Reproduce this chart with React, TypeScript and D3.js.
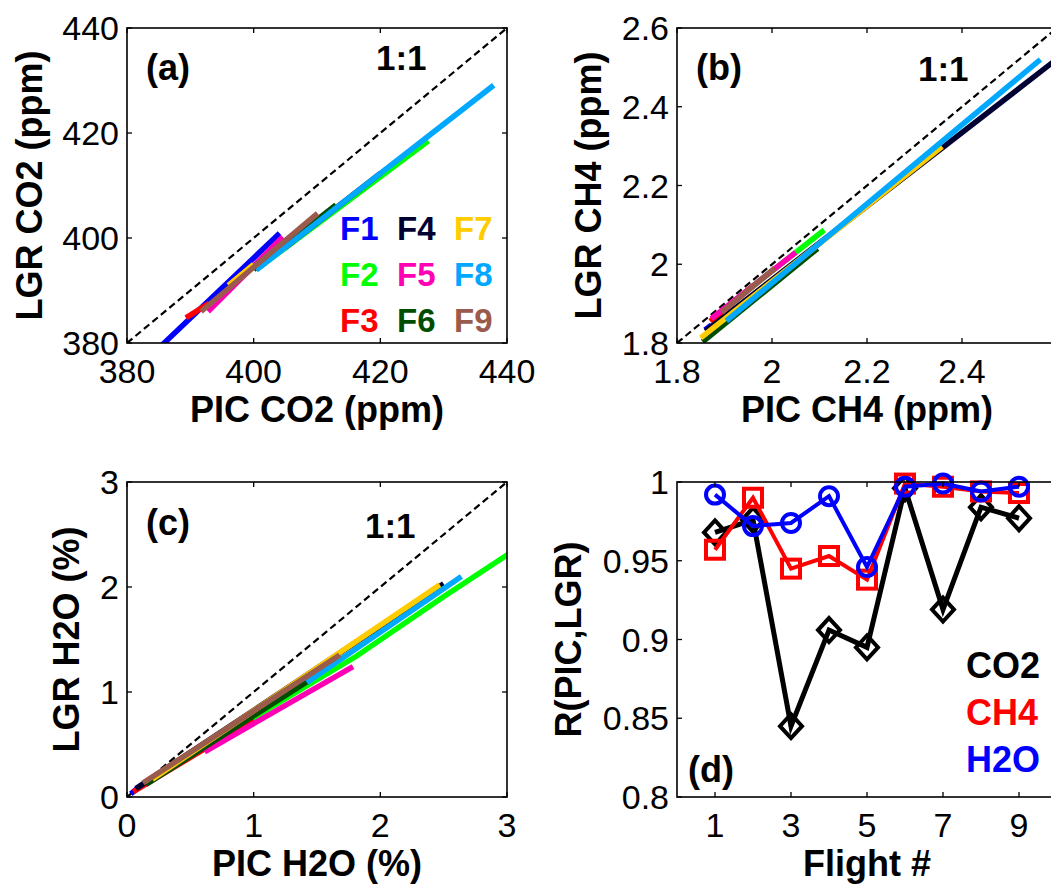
import * as d3 from "d3";

const flightNames = ["F1", "F2", "F3", "F4", "F5", "F6", "F7", "F8", "F9"];
const flightColors = [
  "#0000ff",
  "#00ff00",
  "#ff0000",
  "#000033",
  "#ff00b4",
  "#004d00",
  "#ffcc00",
  "#00a8ff",
  "#9a5a4c"
];

// [PIC, LGR] points, one track per flight (F1..F9)
const co2Tracks: [number, number][][] = [
  [[385.0, 379.0], [404.1, 400.9]],
  [[401.0, 394.5], [427.6, 418.5]],
  [[389.3, 384.8], [393.0, 387.6]],
  [[405.0, 398.2], [420.0, 412.3]],
  [[392.8, 386.0], [404.6, 400.2]],
  [[400.0, 394.0], [413.0, 406.3]],
  [[396.0, 391.0], [400.0, 395.0]],
  [[400.4, 393.9], [437.9, 429.1]],
  [[391.7, 386.0], [410.1, 404.7]]
];
const ch4Tracks: [number, number][][] = [
  [[1.859, 1.833], [1.873, 1.846]],
  [[1.95, 1.935], [2.11, 2.087]],
  [[1.87, 1.855], [1.96, 1.945]],
  [[1.86, 1.83], [2.62, 2.54]],
  [[1.872, 1.862], [2.05, 2.03]],
  [[1.854, 1.803], [2.096, 2.04]],
  [[1.85, 1.813], [2.358, 2.299]],
  [[1.904, 1.856], [2.565, 2.52]],
  [[1.894, 1.878], [2.006, 1.99]]
];
const h2oTracks: [number, number][][] = [
  [[0.03, 0.03], [0.08, 0.08]],
  [[0.5, 0.4], [1.02, 0.77], [1.81, 1.34], [2.49, 1.9], [3.02, 2.32]],
  [[0.05, 0.05], [1.0, 0.74]],
  [[0.07, 0.08], [2.5, 2.03]],
  [[0.613, 0.431], [1.784, 1.241]],
  [[0.15, 0.12], [1.45, 1.12]],
  [[0.2, 0.17], [2.47, 2.02]],
  [[1.42, 1.09], [2.64, 2.1]],
  [[0.126, 0.133], [1.679, 1.352]]
];

const co2Ticks = [380, 400, 420, 440];
const ch4Ticks = [1.8, 2, 2.2, 2.4, 2.6];
const ch4XTicks = [1.8, 2, 2.2, 2.4];
const h2oTicks = [0, 1, 2, 3];

const flightNumbers = [1, 2, 3, 4, 5, 6, 7, 8, 9];
const rCO2 = [0.968, 0.976, 0.845, 0.906, 0.895, 0.996, 0.919, 0.984, 0.977];
const rCH4 = [0.957, 0.99, 0.945, 0.953, 0.938, 0.999, 0.997, 0.994, 0.993];
const rH2O = [0.992, 0.972, 0.974, 0.991, 0.946, 0.997, 0.999, 0.994, 0.997];
const flightTicks = [1, 3, 5, 7, 9];
const rTicks = [0.8, 0.85, 0.9, 0.95, 1];

const font = "'Liberation Sans', Arial, Helvetica, sans-serif";
const plotW = 380;
const plotH = 315;
const tickLen = 5;

function Frame({
  x,
  y,
  xTicks,
  yTicks,
  left,
  top
}: {
  x: d3.ScaleLinear<number, number>;
  y: d3.ScaleLinear<number, number>;
  xTicks: number[];
  yTicks: number[];
  left: number;
  top: number;
}) {
  const bottom = top + plotH;
  const right = left + plotW;
  return (
    <g>
      <rect x={left} y={top} width={plotW} height={plotH} fill="none" stroke="#000" strokeWidth={1.6} />
      {xTicks.map((t) => (
        <g key={`x${t}`}>
          <line x1={x(t)} x2={x(t)} y1={bottom} y2={bottom - tickLen} stroke="#000" strokeWidth={1.3} />
          <line x1={x(t)} x2={x(t)} y1={top} y2={top + tickLen} stroke="#000" strokeWidth={1.3} />
          <text x={x(t)} y={bottom + 40} textAnchor="middle" fontSize={34} fontFamily={font}>
            {String(t)}
          </text>
        </g>
      ))}
      {yTicks.map((t) => (
        <g key={`y${t}`}>
          <line x1={left} x2={left + tickLen} y1={y(t)} y2={y(t)} stroke="#000" strokeWidth={1.3} />
          <line x1={right} x2={right - tickLen} y1={y(t)} y2={y(t)} stroke="#000" strokeWidth={1.3} />
          <text x={left - 8} y={y(t) + 12} textAnchor="end" fontSize={34} fontFamily={font}>
            {String(t)}
          </text>
        </g>
      ))}
    </g>
  );
}

function ScatterPanel({
  id,
  left,
  top,
  domain,
  xTicks,
  yTicks,
  tracks,
  xLabel,
  yLabel,
  yLabelX,
  tag,
  tagY,
  ratioX,
  ratioY,
  legend
}: {
  id: string;
  left: number;
  top: number;
  domain: [number, number];
  xTicks: number[];
  yTicks: number[];
  tracks: [number, number][][];
  xLabel: string;
  yLabel: string;
  yLabelX: number;
  tag: string;
  tagY: number;
  ratioX: number;
  ratioY: number;
  legend?: boolean;
}) {
  const x = d3.scaleLinear().domain(domain).range([left, left + plotW]);
  const y = d3.scaleLinear().domain(domain).range([top + plotH, top]);
  const path = d3
    .line<[number, number]>()
    .x((d) => x(d[0]))
    .y((d) => y(d[1]));
  return (
    <g>
      <defs>
        <clipPath id={id}>
          <rect x={left} y={top} width={plotW} height={plotH} />
        </clipPath>
      </defs>
      <g clipPath={`url(#${id})`}>
        <path
          d={path([[domain[0], domain[0]], [domain[1], domain[1]]]) ?? ""}
          stroke="#000"
          strokeWidth={2.2}
          strokeDasharray="7 4"
          fill="none"
        />
        {tracks.map((t, i) => (
          <path key={flightNames[i]} d={path(t) ?? ""} stroke={flightColors[i]} strokeWidth={5.5} fill="none" />
        ))}
      </g>
      <Frame x={x} y={y} xTicks={xTicks} yTicks={yTicks} left={left} top={top} />
      <text x={left + 19} y={tagY} fontSize={36} fontWeight="bold" fontFamily={font}>
        {tag}
      </text>
      <text x={ratioX} y={ratioY} fontSize={35} fontWeight="bold" fontFamily={font}>
        1:1
      </text>
      <text x={left + plotW / 2} y={top + plotH + 79} textAnchor="middle" fontSize={36} fontWeight="bold" fontFamily={font}>
        {xLabel}
      </text>
      <text
        transform={`translate(${yLabelX},${top + plotH / 2}) rotate(-90)`}
        textAnchor="middle"
        fontSize={36}
        fontWeight="bold"
        fontFamily={font}
      >
        {yLabel}
      </text>
      {legend
        ? flightNames.map((name, i) => (
            <text
              key={name}
              x={340 + Math.floor(i / 3) * 57}
              y={240 + (i % 3) * 46}
              fontSize={33}
              fontWeight="bold"
              fontFamily={font}
              fill={flightColors[i]}
            >
              {name}
            </text>
          ))
        : null}
    </g>
  );
}

function CorrelationPanel({ left, top }: { left: number; top: number }) {
  const x = d3.scaleLinear().domain([0, 10]).range([left, left + plotW]);
  const y = d3.scaleLinear().domain([0.8, 1]).range([top + plotH, top]);
  const path = d3
    .line<number>()
    .x((_, i) => x(flightNumbers[i]))
    .y((d) => y(d));
  const series = [
    { name: "CO2", values: rCO2, color: "#000000", width: 5, marker: "diamond" },
    { name: "CH4", values: rCH4, color: "#ff0000", width: 4, marker: "square" },
    { name: "H2O", values: rH2O, color: "#0000ff", width: 4, marker: "circle" }
  ];
  return (
    <g>
      {series.map((s) => (
        <g key={s.name}>
          <path d={path(s.values) ?? ""} stroke={s.color} strokeWidth={s.width} fill="none" />
          {s.values.map((v, i) => {
            const cx = x(flightNumbers[i]);
            const cy = y(v);
            if (s.marker === "diamond") {
              return (
                <path
                  key={i}
                  d={`M${cx},${cy - 12}L${cx + 11},${cy}L${cx},${cy + 12}L${cx - 11},${cy}Z`}
                  fill="none"
                  stroke={s.color}
                  strokeWidth={4}
                />
              );
            }
            if (s.marker === "square") {
              return <rect key={i} x={cx - 9} y={cy - 9} width={18} height={18} fill="none" stroke={s.color} strokeWidth={4} />;
            }
            return <circle key={i} cx={cx} cy={cy} r={9} fill="none" stroke={s.color} strokeWidth={4} />;
          })}
        </g>
      ))}
      <Frame x={x} y={y} xTicks={flightTicks} yTicks={rTicks} left={left} top={top} />
      {series.map((s, i) => (
        <text key={s.name} x={966} y={678 + i * 47} fontSize={36} fontWeight="bold" fontFamily={font} fill={s.color}>
          {s.name}
        </text>
      ))}
      <text x={688} y={782} fontSize={36} fontWeight="bold" fontFamily={font}>
        (d)
      </text>
      <text x={left + plotW / 2} y={top + plotH + 79} textAnchor="middle" fontSize={36} fontWeight="bold" fontFamily={font}>
        Flight #
      </text>
      <text
        transform={`translate(581,${top + plotH / 2}) rotate(-90)`}
        textAnchor="middle"
        fontSize={36}
        fontWeight="bold"
        fontFamily={font}
      >
        R(PIC,LGR)
      </text>
    </g>
  );
}

export default function App() {
  return (
    <svg
      width={1051}
      height={885}
      viewBox="0 0 1051 885"
      style={{ position: "absolute", left: 0, top: 0, background: "#fff" }}
    >
      <rect width={1051} height={885} fill="#fff" />
      <ScatterPanel
        id="clip-a"
        left={127}
        top={28}
        domain={[380, 440]}
        xTicks={co2Ticks}
        yTicks={co2Ticks}
        tracks={co2Tracks}
        xLabel="PIC CO2 (ppm)"
        yLabel="LGR CO2 (ppm)"
        yLabelX={42}
        tag="(a)"
        tagY={80}
        ratioX={376}
        ratioY={70}
        legend
      />
      <ScatterPanel
        id="clip-b"
        left={677}
        top={28}
        domain={[1.8, 2.6]}
        xTicks={ch4XTicks}
        yTicks={ch4Ticks}
        tracks={ch4Tracks}
        xLabel="PIC CH4 (ppm)"
        yLabel="LGR CH4 (ppm)"
        yLabelX={601}
        tag="(b)"
        tagY={80}
        ratioX={918}
        ratioY={81}
      />
      <ScatterPanel
        id="clip-c"
        left={127}
        top={482}
        domain={[0, 3]}
        xTicks={h2oTicks}
        yTicks={h2oTicks}
        tracks={h2oTracks}
        xLabel="PIC H2O (%)"
        yLabel="LGR H2O (%)"
        yLabelX={79}
        tag="(c)"
        tagY={535}
        ratioX={365}
        ratioY={538}
      />
      <CorrelationPanel left={677} top={482} />
    </svg>
  );
}
